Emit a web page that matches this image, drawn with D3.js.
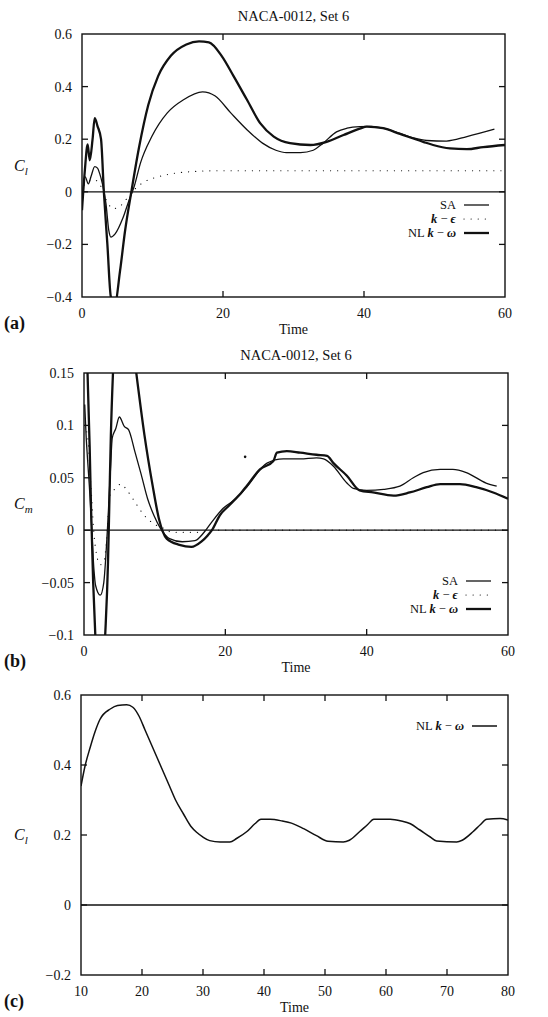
<!DOCTYPE html>
<html>
<head>
<meta charset="utf-8">
<script src="https://cdn.jsdelivr.net/npm/d3@7"></script>
<style>
  body { margin: 0; background: #fff; }
</style>
</head>
<body>
<script>
// data: [time, coefficient]

// (a) lift coefficient, NACA-0012 set 6
const saLift = [[0,-0.06],[0.2,0.02],[0.45,0.057],[0.9,0.03],[1.3,0.06],[1.8,0.096],[2.2,0.09],[2.5,0.07],[2.9,0.03],[3.4,-0.045],[3.8,-0.147],[4.1,-0.172],[4.7,-0.16],[5.8,-0.1],[6.7,-0.03],[7.4,0.02],[8.3,0.11],[9.9,0.21],[12.1,0.3],[14.4,0.35],[17.1,0.38],[18.9,0.364],[21.1,0.3],[23.4,0.236],[25.6,0.185],[27.5,0.158],[29,0.149],[31,0.149],[32.8,0.158],[34.2,0.185],[36.1,0.228],[37.6,0.242],[39.4,0.248],[41,0.249],[42.7,0.242],[45.1,0.222],[47,0.205],[48.9,0.195],[51.7,0.193],[54.6,0.21],[58.5,0.238]];
const keLift = [[0,0],[0.2,0.02],[0.9,0.04],[1.8,0.045],[2.7,0.02],[3.6,-0.04],[4.5,-0.064],[5.8,-0.045],[6.7,-0.013],[7.6,0.013],[9,0.04],[10.8,0.057],[13,0.07],[15.7,0.077],[18.9,0.08],[60,0.08]];
const nlLift = [[0,-0.07],[0.4,0.08],[0.8,0.18],[1.1,0.12],[1.5,0.2],[1.8,0.28],[2.2,0.25],[2.7,0.2],[3.1,0],[3.6,-0.2],[4.1,-0.4],[4.7,-0.42],[5.4,-0.3],[6.1,-0.15],[7,0],[8.1,0.17],[9.4,0.33],[10.8,0.44],[12.6,0.517],[14.8,0.56],[16.6,0.572],[18,0.568],[19.8,0.517],[21.5,0.44],[23.4,0.35],[25.3,0.26],[27.2,0.21],[29.5,0.185],[32.4,0.178],[34.7,0.19],[37.1,0.216],[39.4,0.24],[40.4,0.248],[42.7,0.242],[45.1,0.22],[48.4,0.19],[49.8,0.178],[52.2,0.165],[54.6,0.162],[56.9,0.17],[60,0.178]];

// (b) moment coefficient
const saMoment = [[0.1,0.12],[0.3,0.09],[0.5,0.068],[0.75,0.043],[1,0.014],[1.4,-0.037],[1.65,-0.053],[2.3,-0.062],[2.8,-0.05],[3.1,-0.024],[3.4,0.011],[3.75,0.059],[4,0.088],[4.5,0.097],[5,0.108],[5.7,0.099],[6.3,0.096],[7.2,0.075],[8.1,0.053],[9,0.03],[9.9,0.014],[10.8,0.002],[12.1,-0.008],[13.9,-0.011],[15.7,-0.01],[17,-0.002],[18.1,0.008],[19.7,0.021],[21.5,0.03],[23,0.041],[25.9,0.064],[28.2,0.068],[30.6,0.068],[32.9,0.069],[33.9,0.068],[35.3,0.061],[37.2,0.045],[38.1,0.04],[40,0.038],[42.4,0.039],[44.7,0.042],[46.6,0.05],[48,0.055],[50.4,0.058],[52.2,0.058],[54.1,0.055],[56.9,0.045],[58.4,0.042]];
const keMoment = [[0,0.1],[0.5,0.09],[1,0.04],[1.5,-0.01],[2.3,-0.033],[2.8,-0.03],[3.2,-0.01],[3.65,0.033],[4.5,0.04],[5.2,0.044],[6.1,0.038],[7.2,0.027],[8.55,0.014],[9.9,0.006],[11.2,0.002],[12.5,-0.002],[16,-0.002],[18,0],[60,0]];
const nlMoment = [[0,0.2],[0.5,0.15],[0.8,0.08],[1,0.02],[1.3,-0.05],[1.6,-0.1],[2,-0.14],[2.6,-0.15],[3,-0.1],[3.4,-0.03],[3.6,0.03],[3.8,0.09],[4.1,0.15],[4.5,0.2],[6.5,0.2],[7.4,0.15],[8.55,0.091],[9.7,0.043],[10.6,0.011],[11.7,-0.008],[13.5,-0.014],[15.2,-0.016],[16.6,-0.011],[17.5,-0.005],[18.1,0],[19.2,0.014],[20.6,0.024],[22.4,0.037],[23,0.042],[24.9,0.058],[26.8,0.066],[27.3,0.074],[28.7,0.0755],[30.6,0.074],[32.9,0.072],[34.4,0.071],[35.3,0.064],[37.2,0.052],[39,0.038],[40.9,0.036],[43.8,0.033],[46.1,0.036],[48.5,0.041],[50.4,0.044],[53.2,0.044],[55.5,0.041],[57.9,0.036],[60,0.03]];
const strayMoment = [[22.8,0.07]];

// (c) lift coefficient, NL k-omega over a longer run
const nlLiftLong = [[10,0.34],[10.7,0.4],[11.5,0.45],[12.3,0.495],[13.1,0.53],[14.8,0.56],[16,0.57],[17.5,0.572],[18.5,0.565],[19.5,0.54],[20.5,0.5],[21.5,0.46],[22.5,0.42],[23.5,0.38],[24.5,0.34],[25.5,0.3],[26.8,0.26],[28,0.225],[29,0.207],[30,0.194],[31.1,0.184],[32.8,0.18],[34.4,0.18],[35.5,0.19],[37.2,0.21],[38.5,0.232],[39.5,0.245],[41,0.245],[43,0.24],[44.5,0.234],[46.5,0.218],[48.6,0.198],[50.5,0.182],[53,0.18],[54,0.185],[55.7,0.21],[57,0.23],[58,0.245],[60.7,0.245],[62.5,0.24],[64,0.232],[65.5,0.215],[67.2,0.195],[68.3,0.183],[71.6,0.18],[72.5,0.185],[74.3,0.21],[75.5,0.23],[76.5,0.245],[78.7,0.247],[80,0.243]];

// ticks
const xTicksAB = [0, 20, 40, 60];
const yTicksA = [-0.4, -0.2, 0, 0.2, 0.4, 0.6];
const yTicksB = [-0.1, -0.05, 0, 0.05, 0.1, 0.15];
const xTicksC = [10, 20, 30, 40, 50, 60, 70, 80];
const yTicksC = [-0.2, 0, 0.2, 0.4, 0.6];

const svg = d3.select("body").append("svg")
    .attr("width", 548)
    .attr("height", 1017)
    .style("font-family", "'Liberation Serif', 'DejaVu Serif', serif");

const fmt = v => v === 0 ? "0" : String(v).replace("-", "\u2212");

function drawPanel(p) {
  const x = d3.scaleLinear().domain(p.xDomain).range([p.left, p.right]);
  const y = d3.scaleLinear().domain(p.yDomain).range([p.bottom, p.top]);
  const g = svg.append("g").style("fill", "#111");

  g.append("clipPath").attr("id", "clip-" + p.id)
    .append("rect")
    .attr("x", p.left).attr("y", p.top)
    .attr("width", p.right - p.left).attr("height", p.bottom - p.top);

  if (p.title) {
    g.append("text").text(p.title)
      .attr("x", (p.left + p.right) / 2).attr("y", p.top - 13)
      .attr("text-anchor", "middle").style("font-size", "14.5px");
  }

  // inward ticks on all four sides
  const tl = 6;
  p.xTicks.forEach(t => {
    if (t === p.xDomain[0] || t === p.xDomain[1]) return;
    g.append("line").attr("x1", x(t)).attr("x2", x(t)).attr("y1", p.bottom).attr("y2", p.bottom - tl)
      .style("stroke", "#111").style("stroke-width", 1.3);
    g.append("line").attr("x1", x(t)).attr("x2", x(t)).attr("y1", p.top).attr("y2", p.top + tl)
      .style("stroke", "#111").style("stroke-width", 1.3);
  });
  p.yTicks.forEach(t => {
    if (t === p.yDomain[0] || t === p.yDomain[1]) return;
    g.append("line").attr("x1", p.left).attr("x2", p.left + tl).attr("y1", y(t)).attr("y2", y(t))
      .style("stroke", "#111").style("stroke-width", 1.3);
    g.append("line").attr("x1", p.right).attr("x2", p.right - tl).attr("y1", y(t)).attr("y2", y(t))
      .style("stroke", "#111").style("stroke-width", 1.3);
  });

  p.xTicks.forEach(t => {
    g.append("text").text(fmt(t))
      .attr("x", x(t)).attr("y", p.bottom + 21)
      .attr("text-anchor", "middle").style("font-size", "14px");
  });
  p.yTicks.forEach(t => {
    g.append("text").text(fmt(t))
      .attr("x", p.left - 10).attr("y", y(t) + 5)
      .attr("text-anchor", "end").style("font-size", "14px");
  });

  g.append("text").text("Time")
    .attr("x", (p.left + p.right) / 2).attr("y", p.bottom + 37)
    .attr("text-anchor", "middle").style("font-size", "14px");

  g.append("text").text(p.tag)
    .attr("x", 4).attr("y", p.bottom + 32)
    .style("font-size", "18px").style("font-weight", "bold");

  const yl = g.append("text").attr("x", 14).attr("y", y(p.yLabelAt) + 5).style("font-size", "16px");
  yl.append("tspan").text("C").style("font-style", "italic");
  yl.append("tspan").text(p.yLabelSub).attr("dy", 4).style("font-style", "italic").style("font-size", "11px");

  // zero line
  g.append("line").attr("x1", p.left).attr("x2", p.right).attr("y1", y(0)).attr("y2", y(0))
    .style("stroke", "#111").style("stroke-width", 1.3);

  const line = d3.line().x(d => x(d[0])).y(d => y(d[1])).curve(d3.curveMonotoneX);
  const plot = g.append("g").attr("clip-path", "url(#clip-" + p.id + ")");

  p.series.forEach(s => {
    plot.append("path").datum(s.data)
      .attr("d", line)
      .style("fill", "none")
      .style("stroke", "#111")
      .style("stroke-width", s.width)
      .style("stroke-dasharray", s.dash || null)
      .style("stroke-linecap", s.dash ? "round" : "butt")
      .style("stroke-linejoin", "round");
  });

  (p.dots || []).forEach(d => {
    plot.append("circle").attr("cx", x(d[0])).attr("cy", y(d[1])).attr("r", 1.3).style("fill", "#111");
  });

  // frame
  g.append("rect")
    .attr("x", p.left).attr("y", p.top)
    .attr("width", p.right - p.left).attr("height", p.bottom - p.top)
    .style("fill", "none").style("stroke", "#111").style("stroke-width", 1.4);

  // legend: right aligned text, then a short sample of the line
  p.series.forEach((s, i) => {
    const ly = p.legendTop + i * 14;
    const t = g.append("text").attr("x", p.legendX).attr("y", ly + 4)
      .attr("text-anchor", "end").style("font-size", "12.5px");
    s.label.forEach(part => {
      t.append("tspan").text(part[0])
        .style("font-style", part[1] ? "italic" : "normal")
        .style("font-weight", part[1] ? "bold" : "normal");
    });
    g.append("line")
      .attr("x1", p.legendX + 8).attr("x2", p.legendX + 33)
      .attr("y1", ly).attr("y2", ly)
      .style("stroke", "#111").style("stroke-width", s.width)
      .style("stroke-dasharray", s.dash || null)
      .style("stroke-linecap", s.dash ? "round" : "butt");
  });
}

const saLabel = [["SA", false]];
const keLabel = [["k", true], [" \u2212 ", false], ["\u03f5", true]];
const nlLabel = [["NL ", false], ["k", true], [" \u2212 ", false], ["\u03c9", true]];

drawPanel({
  id: "a", tag: "(a)", title: "NACA-0012, Set 6",
  left: 82, right: 505, top: 34, bottom: 297,
  xDomain: [0, 60], yDomain: [-0.4, 0.6],
  xTicks: xTicksAB, yTicks: yTicksA,
  yLabelSub: "l", yLabelAt: 0.1,
  legendX: 456, legendTop: 205,
  series: [
    { data: saLift, width: 1.3, label: saLabel },
    { data: keLift, width: 1.2, dash: "0.1 7", label: keLabel },
    { data: nlLift, width: 2.3, label: nlLabel }
  ]
});

drawPanel({
  id: "b", tag: "(b)", title: "NACA-0012, Set 6",
  left: 84, right: 508, top: 373, bottom: 635,
  xDomain: [0, 60], yDomain: [-0.1, 0.15],
  xTicks: xTicksAB, yTicks: yTicksB,
  yLabelSub: "m", yLabelAt: 0.025,
  legendX: 458, legendTop: 581,
  series: [
    { data: saMoment, width: 1.3, label: saLabel },
    { data: keMoment, width: 1.2, dash: "0.1 7", label: keLabel },
    { data: nlMoment, width: 2.3, label: nlLabel }
  ],
  dots: strayMoment
});

drawPanel({
  id: "c", tag: "(c)", title: null,
  left: 81, right: 508, top: 695, bottom: 975,
  xDomain: [10, 80], yDomain: [-0.2, 0.6],
  xTicks: xTicksC, yTicks: yTicksC,
  yLabelSub: "l", yLabelAt: 0.2,
  legendX: 464, legendTop: 726,
  series: [
    { data: nlLiftLong, width: 1.5, label: nlLabel }
  ]
});
</script>
</body>
</html>
